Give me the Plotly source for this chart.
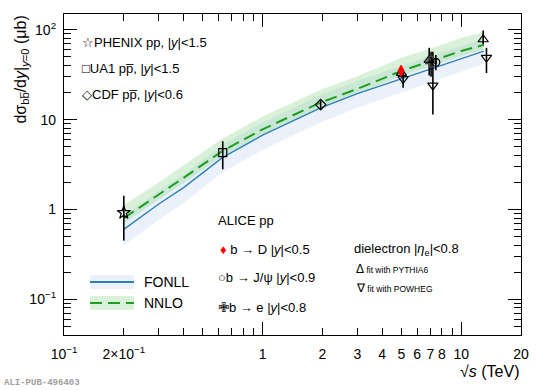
import plotly.graph_objects as go

# ---------------- data ----------------
E_th = [0.2, 0.3, 0.4, 0.63, 1.0, 1.96, 3.0, 5.02, 7.0, 10.0, 13.0]
FONLL = [0.60, 1.15, 1.75, 3.8, 6.7, 13.5, 19.5, 28.5, 37, 48, 58]
FONLL_hi = [0.85, 1.62, 2.45, 5.3, 9.3, 18.8, 27, 40, 51, 66, 80]
FONLL_lo = [0.40, 0.77, 1.18, 2.6, 4.6, 9.3, 13.6, 20.2, 26.5, 34.5, 42]
NNLO = [0.80, 1.45, 2.25, 4.5, 7.8, 15.5, 22, 35, 44.5, 58, 68]
NNLO_hi = [1.12, 2.0, 3.1, 6.2, 10.8, 21.5, 30.5, 49, 62, 81, 94]
NNLO_lo = [0.70, 1.27, 1.97, 3.95, 6.85, 13.6, 19.4, 30.8, 39, 51, 60]

phenix_x, phenix_y, phenix_up, phenix_dn = [0.2], [0.92], [0.50], [0.47]
ua1_x, ua1_y, ua1_up, ua1_dn = [0.63], [4.3], [1.45], [1.5]
cdf_x, cdf_y, cdf_up, cdf_dn = [1.96], [14.7], [1.6], [1.6]
bD_x, bD_y, bD_up, bD_dn = [4.98], [35.0], [2.5], [2.5]
jpsi_x, jpsi_y, jpsi_up, jpsi_dn = [7.45], [43.5], [9.0], [8.0]
be_x, be_y, be_up, be_dn = [7.05], [44.0], [13.0], [14.0]
pyth_x, pyth_y, pyth_up, pyth_dn = [5.0, 6.9, 12.9], [33.0, 46.0, 78.0], [4.0, 17.0, 20.0], [4.0, 15.0, 9.0]
powh_x, powh_y, powh_up, powh_dn = [5.1, 7.2, 13.4], [28.5, 24.0, 49.0], [5.5, 33.0, 14.0], [5.8, 12.6, 16.0]

x_major = [0.1, 0.2, 1, 2, 3, 4, 5, 6, 7, 8, 10, 20]
x_major_text = ["10<sup>−1</sup>", "2×10<sup>−1</sup>", "1", "2", "3", "4", "5", "6", "7", "8", "10", "20"]
x_minor = [0.3, 0.4, 0.5, 0.6, 0.7, 0.8, 0.9, 9]
x_decades = [0.1, 1, 10]
y_major = [0.1, 1, 10, 100]
y_major_text = ["10<sup>−1</sup>", "1", "10", "10<sup>2</sup>"]
y_minor = [0.04, 0.05, 0.06, 0.07, 0.08, 0.09, 0.2, 0.3, 0.4, 0.5, 0.6, 0.7, 0.8, 0.9,
           2, 3, 4, 5, 6, 7, 8, 9, 20, 30, 40, 50, 60, 70, 80, 90]

FONT = "Liberation Sans, Arial, sans-serif"
BLUE = "#2f80b8"
GREEN = "#1e9e1e"
BLUE_BAND = "rgba(185,210,238,0.30)"
GREEN_BAND = "rgba(130,210,130,0.30)"

fig = go.Figure()

# bands
fig.add_trace(go.Scatter(x=E_th, y=FONLL_lo, mode="lines", line=dict(width=0), showlegend=False, hoverinfo="skip"))
fig.add_trace(go.Scatter(x=E_th, y=FONLL_hi, mode="lines", line=dict(width=0), fill="tonexty",
                         fillcolor=BLUE_BAND, showlegend=False, hoverinfo="skip"))
fig.add_trace(go.Scatter(x=E_th, y=NNLO_lo, mode="lines", line=dict(width=0), showlegend=False, hoverinfo="skip"))
fig.add_trace(go.Scatter(x=E_th, y=NNLO_hi, mode="lines", line=dict(width=0), fill="tonexty",
                         fillcolor=GREEN_BAND, showlegend=False, hoverinfo="skip"))
fig.add_trace(go.Scatter(x=E_th, y=FONLL, mode="lines", line=dict(color=BLUE, width=1.4), showlegend=False))
fig.add_trace(go.Scatter(x=E_th, y=NNLO, mode="lines", line=dict(color=GREEN, width=2, dash="12px,6px"), showlegend=False))


def pts(x, y, up, dn, symbol, size, color="black", fill=None):
    fig.add_trace(go.Scatter(
        x=x, y=y, mode="markers",
        marker=dict(symbol=symbol, size=size, color=fill if fill else color,
                    line=dict(color=color, width=1.2)),
        error_y=dict(type="data", symmetric=False, array=up, arrayminus=dn,
                     color="black", thickness=1.6, width=0),
        showlegend=False))


pts(phenix_x, phenix_y, phenix_up, phenix_dn, "star-open", 10)
pts(ua1_x, ua1_y, ua1_up, ua1_dn, "square-open", 8)
pts(cdf_x, cdf_y, cdf_up, cdf_dn, "diamond-open", 8)
pts(pyth_x, pyth_y, pyth_up, pyth_dn, "triangle-up-open", 9)
pts(powh_x, powh_y, powh_up, powh_dn, "triangle-down-open", 9)
pts(be_x, be_y, be_up, be_dn, "cross-open", 9, color="#444444")
pts(jpsi_x, jpsi_y, jpsi_up, jpsi_dn, "circle-open", 8)
pts(bD_x, bD_y, bD_up, bD_dn, "diamond-tall", 8, color="red", fill="red")

# geometry helpers (plot area: x 64..521 px, y 14..335 px)
L, R, T, B = 64, 521, 14, 335


def px(xp):
    return (xp - L) / (R - L)


def py(yp):
    return (B - yp) / (B - T)


ann = []


def text(x, y, s, size=13, xanchor="left", color="black", family=FONT):
    ann.append(dict(x=px(x), y=py(y), xref="paper", yref="paper", text=s, showarrow=False,
                    xanchor=xanchor, yanchor="middle", font=dict(size=size, color=color, family=family)))


text(80, 42, "☆PHENIX pp, |<i>y</i>|<1.5", 13)
text(80, 68, "□UA1 pp\u0305, |<i>y</i>|<1.5", 13)
text(80, 94, "◇CDF pp\u0305, |<i>y</i>|<0.6", 13)
text(216, 220, "ALICE pp", 13)
text(218, 249, "<span style='color:red'>♦</span> b → D |<i>y</i>|<0.5", 13)
text(216, 277, "○b → J/ψ |<i>y</i>|<0.9", 13)
text(216, 307, "<span style='font-family:DejaVu Sans'>✙</span>b → e |<i>y</i>|<0.8", 13)
text(352, 249, "dielectron |<i>η</i><sub>e</sub>|<0.8", 13)
text(354, 269, "<span style='font-size:12px'>Δ</span> fit with PYTHIA6", 8.5)
text(354, 288, "<span style='font-size:12px'>∇</span> fit with POWHEG", 8.5)
text(142, 282, "FONLL", 14)
text(142, 303, "NNLO", 14)
text(2, 383, "<b>ALI-PUB-496403</b>", 9, color="#a0a0a0", family="Liberation Mono, monospace")
text(521, 372, "√<i>s</i> (TeV)", 16, xanchor="right")
ann.append(dict(x=-0.095, y=1.0, xref="paper", yref="paper",
                text="dσ<sub>bb\u0305</sub>/d<i>y</i>|<sub><i>y</i>=0</sub> (μb)",
                showarrow=False, textangle=-90, xanchor="center", yanchor="top",
                font=dict(size=16, family=FONT)))

# legend swatches for FONLL / NNLO
shapes = [
    dict(type="rect", xref="paper", yref="paper", x0=px(90), x1=px(134), y0=py(289), y1=py(275),
         fillcolor=BLUE_BAND, line=dict(width=0)),
    dict(type="line", xref="paper", yref="paper", x0=px(90), x1=px(134), y0=py(282), y1=py(282),
         line=dict(color=BLUE, width=1.8)),
    dict(type="rect", xref="paper", yref="paper", x0=px(90), x1=px(134), y0=py(310), y1=py(296),
         fillcolor=GREEN_BAND, line=dict(width=0)),
    dict(type="line", xref="paper", yref="paper", x0=px(90), x1=px(134), y0=py(303), y1=py(303),
         line=dict(color=GREEN, width=2, dash="12px,6px")),
]

fig.update_layout(
    width=540, height=390,
    margin=dict(l=L, r=540 - R, t=T, b=390 - B),
    paper_bgcolor="white", plot_bgcolor="white",
    font=dict(family=FONT, size=14, color="black"),
    annotations=ann, shapes=shapes, showlegend=False,
    xaxis=dict(type="log", range=[-1, 1.30103], tickmode="array", tickvals=x_major, ticktext=x_major_text,
               ticks="inside", ticklen=7, tickwidth=1, tickcolor="black", mirror="ticks",
               showline=True, linecolor="black", linewidth=1.2, showgrid=False, zeroline=False,
               ticklabelstandoff=6, tickfont=dict(size=14),
               minor=dict(tickmode="array", tickvals=x_minor, ticks="inside", ticklen=7,
                          tickcolor="black", tickwidth=1, showgrid=False)),
    xaxis2=dict(type="log", range=[-1, 1.30103], overlaying="x", anchor="y", tickmode="array",
                tickvals=x_decades, showticklabels=False, ticks="inside", ticklen=13, tickcolor="black",
                tickwidth=1, mirror="ticks", showline=False, showgrid=False, zeroline=False),
    yaxis=dict(type="log", range=[-1.398, 2.176], tickmode="array", tickvals=y_major, ticktext=y_major_text,
               ticks="inside", ticklen=13, tickwidth=1, tickcolor="black", mirror="ticks",
               showline=True, linecolor="black", linewidth=1.2, showgrid=False, zeroline=False,
               tickfont=dict(size=14), ticklabelstandoff=4,
               minor=dict(tickmode="array", tickvals=y_minor, ticks="inside", ticklen=7,
                          tickcolor="black", tickwidth=1, showgrid=False)),
)
fig.add_trace(go.Scatter(x=[], y=[], xaxis="x2", yaxis="y", showlegend=False))

fig.write_html("out.html", config={"displayModeBar": False},
               post_script="document.body.style.margin='0';document.body.style.padding='0';")
